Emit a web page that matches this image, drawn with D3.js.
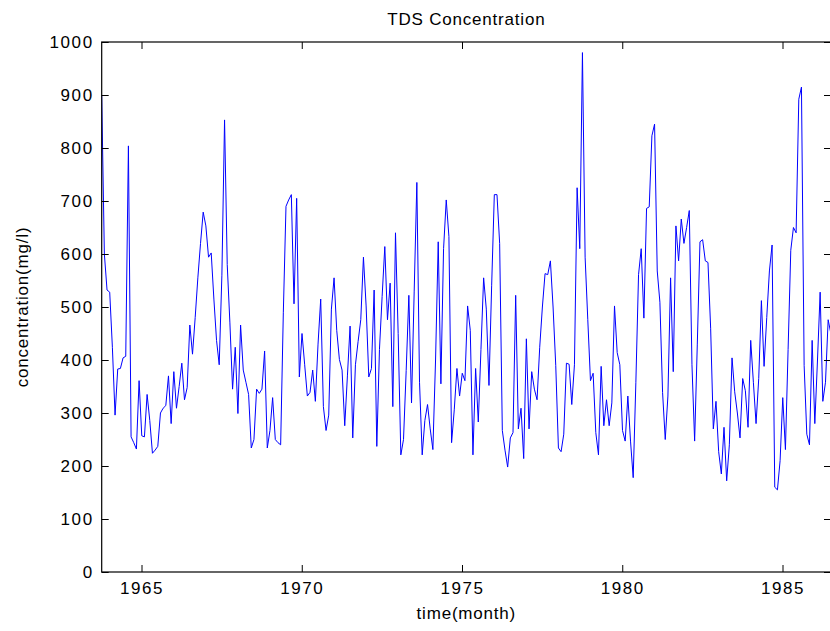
<!DOCTYPE html>
<html><head><meta charset="utf-8">
<script src="https://cdn.jsdelivr.net/npm/d3@7"></script>
<style>body{margin:0;background:#fff;overflow:hidden}</style>
</head><body>
<svg id="c" width="830" height="631"></svg>
<script>
// first monthly sample (Oct 1963) and monthly TDS values (mg/l)
const startYear = 1963.758;
const tds = [
900,600,532,528,424,296,383,384,404,407,804,255,244,232,361,257,255,335,286,224,
230,237,300,309,314,370,280,378,309,350,394,325,348,466,411,480,555,620,679,653,
594,602,515,437,391,560,853,580,470,345,424,299,466,381,358,335,234,250,345,337,
345,417,234,267,329,250,244,240,489,690,702,712,506,705,368,450,391,332,339,381,
322,430,515,312,267,296,496,555,456,401,381,276,370,464,253,391,435,476,594,502,
368,384,532,237,420,520,614,476,545,312,640,450,221,250,380,522,319,530,735,358,
221,286,316,270,231,400,623,355,610,702,633,244,306,384,332,375,361,502,456,221,
384,283,420,555,496,352,540,712,712,620,267,230,198,253,263,522,270,309,214,440,
270,378,345,325,424,500,563,561,587,500,390,234,227,260,394,392,316,391,725,610,
980,594,476,361,375,263,221,388,276,325,276,319,502,414,391,267,247,332,247,178,
358,561,610,479,686,689,823,845,568,509,339,250,332,555,378,653,587,666,620,650,
682,391,247,430,623,627,587,584,460,270,322,227,185,273,172,240,404,340,300,253,
365,342,273,437,358,280,365,512,388,480,568,617,160,155,210,329,231,420,607,650,
640,892,915,390,260,240,437,280,400,528,322,358,476,450
];
const xTicks = [1965, 1970, 1975, 1980, 1985];
const yTicks = [0, 100, 200, 300, 400, 500, 600, 700, 800, 900, 1000];
const xDomain = [1963.758, 1986.513];
const yDomain = [0, 1000];
const titleText = "TDS Concentration";
const xLabelText = "time(month)";
const yLabelText = "concentration(mg/l)";

const L = 101.7, R = 831, T = 42, B = 572;
const font = "'Liberation Sans', Arial, Helvetica, sans-serif";
const svg = d3.select("#c");
const x = d3.scaleLinear().domain(xDomain).range([L, R]);
const y = d3.scaleLinear().domain(yDomain).range([B, T]);

const data = tds.map((v, i) => ({t: startYear + i / 12, v}));

svg.append("defs").append("clipPath").attr("id", "clip")
  .append("rect").attr("x", L).attr("y", T).attr("width", R - L).attr("height", B - T);

svg.append("path").datum(data)
  .attr("clip-path", "url(#clip)")
  .attr("fill", "none").attr("stroke", "#0000ff").attr("stroke-width", 1)
  .attr("d", d3.line().x(d => x(d.t)).y(d => y(d.v)));

const tk = 7;
function style(g, labels) {
  g.select(".domain").remove();
  g.selectAll(".tick line").attr("stroke", "#000").attr("stroke-width", 1);
  g.selectAll(".tick text").attr("fill", "#000").style("font-family", font)
    .style("font-size", "17px").style("letter-spacing", "1.6px");
  if (!labels) g.selectAll(".tick text").remove();
}
svg.append("g").attr("transform", `translate(0,${B})`)
  .call(d3.axisBottom(x).tickValues(xTicks).tickFormat(d3.format("d")).tickSizeInner(-tk).tickSizeOuter(0).tickPadding(10))
  .call(g => style(g, true));
svg.append("g").attr("transform", `translate(0,${T})`)
  .call(d3.axisTop(x).tickValues(xTicks).tickSizeInner(-tk).tickSizeOuter(0))
  .call(g => style(g, false));
svg.append("g").attr("transform", `translate(${L},0)`)
  .call(d3.axisLeft(y).tickValues(yTicks).tickFormat(d3.format("d")).tickSizeInner(-tk).tickSizeOuter(0).tickPadding(8))
  .call(g => style(g, true));
svg.append("g").attr("transform", `translate(${R},0)`)
  .call(d3.axisRight(y).tickValues(yTicks).tickSizeInner(-tk).tickSizeOuter(0))
  .call(g => style(g, false));

svg.append("rect").attr("x", L).attr("y", T).attr("width", R - L).attr("height", B - T)
  .attr("fill", "none").attr("stroke", "#000").attr("stroke-width", 1.2);

svg.append("text").attr("x", (L + R) / 2).attr("y", 25).attr("text-anchor", "middle")
  .style("font-family", font).style("font-size", "17px").style("letter-spacing", "0.8px").text(titleText);
svg.append("text").attr("x", (L + R) / 2).attr("y", 619).attr("text-anchor", "middle")
  .style("font-family", font).style("font-size", "17px").style("letter-spacing", "0.8px").text(xLabelText);
svg.append("text").attr("transform", `translate(28,${(T + B) / 2}) rotate(-90)`).attr("text-anchor", "middle")
  .style("font-family", font).style("font-size", "17px").style("letter-spacing", "0.8px").text(yLabelText);
</script>
</body></html>
